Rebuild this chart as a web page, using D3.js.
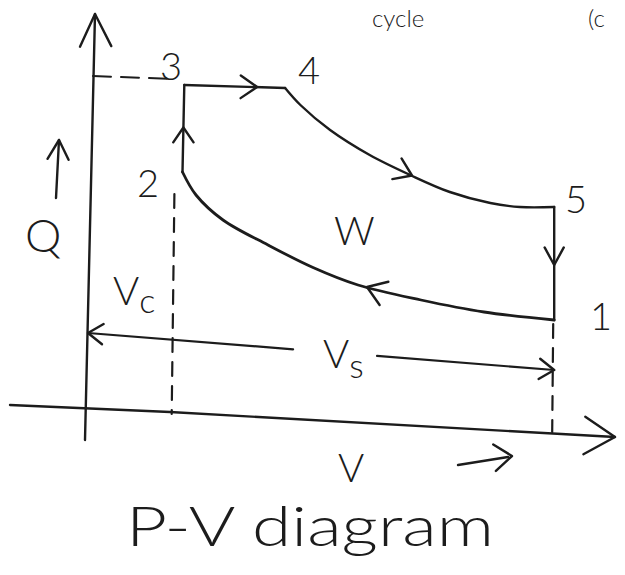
<!DOCTYPE html>
<html>
<head>
<meta charset="utf-8">
<script src="https://cdn.jsdelivr.net/npm/d3@7"></script>
<style>
  html, body { margin: 0; padding: 0; background: #ffffff; }
  svg { display: block; }
  text { font-family: "Lato", "Open Sans", sans-serif; font-weight: 300; fill: #1c1c1c; }
</style>
</head>
<body>
<svg id="chart" width="625" height="575"></svg>
<script>
// State points of the dual combustion cycle (volume V, pressure P, arbitrary units)
const stateNames = ["1", "2", "3", "4", "5"];
const stateV = [5.18, 1.05, 1.07, 2.19, 5.18];
const stateP = [1.8, 4.76, 6.5, 6.44, 4.06];

// Expansion 4 -> 5 (polytropic curve, flattening near 5)
const expansionV = [2.19, 2.36, 2.69, 3.13, 3.58, 4.02, 4.47, 4.80, 5.18];
const expansionP = [6.44, 6.10, 5.60, 5.10, 4.70, 4.36, 4.14, 4.06, 4.06];

// Compression 1 -> 2
const compressionV = [5.18, 4.40, 3.70, 3.00, 2.50, 2.00, 1.50, 1.20, 1.05];
const compressionP = [1.80, 1.96, 2.20, 2.50, 2.85, 3.30, 3.80, 4.30, 4.76];

// Swept-volume dimension line (from V = 0 to V1)
const sweptV = [0, 5.18];
const sweptP = [1.54, 0.80];

const svg = d3.select("#chart");
const ink = "#1c1c1c";

const x = d3.scaleLinear().domain([0, 5.2]).range([88, 556]);
const y = d3.scaleLinear().domain([0, 6.5]).range([410, 85]);

const line = d3.line().x(d => x(d[0])).y(d => y(d[1])).curve(d3.curveCatmullRom.alpha(0.5));
const straight = d3.line();

const pt = i => [x(stateV[i]), y(stateP[i])];

function stroke(sel, w) {
  return sel.attr("fill", "none").attr("stroke", ink).attr("stroke-width", w || 2.4)
    .attr("stroke-linecap", "round").attr("stroke-linejoin", "round");
}

// open chevron arrowhead; tip at (tx, ty) pointing in direction angle (radians)
function chevron(tx, ty, ang, len, spread) {
  len = len || 16; spread = spread || 0.55;
  const a1 = ang + Math.PI - spread, a2 = ang + Math.PI + spread;
  const p = [[tx + len * Math.cos(a1), ty + len * Math.sin(a1)], [tx, ty], [tx + len * Math.cos(a2), ty + len * Math.sin(a2)]];
  stroke(svg.append("path").attr("d", straight(p)));
}

// ---- axes (hand-drawn, slightly tilted) ----
stroke(svg.append("path").attr("d", straight([[95, 14], [85, 440]])));
chevron(95, 14, -Math.PI / 2 - 0.02, 36, 0.45);
stroke(svg.append("path").attr("d", straight([[10, 405], [170, 412], [615, 437]])));
chevron(615, 437, 0.05, 36, 0.55);

// ---- heading fragment along the top edge ----
svg.append("text").attr("x", 372).attr("y", 27).attr("font-size", 24).text("cycle");
svg.append("text").attr("x", 588).attr("y", 27).attr("font-size", 24).text("(c");

// ---- pressure axis marker ----
stroke(svg.append("path").attr("d", straight([[56, 198], [59, 140]])));
chevron(59, 140, -Math.PI / 2 + 0.05, 22, 0.5);
svg.append("text").attr("x", 25).attr("y", 252).attr("font-size", 46).text("Q");

// ---- cycle ----
const p1 = pt(0), p2 = pt(1), p3 = pt(2), p4 = pt(3), p5 = pt(4);

// dashed projection of P3 onto the pressure axis
stroke(svg.append("path").attr("d", straight([[93, 76], [p3[0] - 12, 79]])), 2)
  .attr("stroke-dasharray", "18 10");

// 2 -> 3 constant volume heat addition
stroke(svg.append("path").attr("d", straight([p2, p3])));
chevron(x(1.06), y(5.65), -Math.PI / 2, 18, 0.6);

// 3 -> 4 constant pressure heat addition
stroke(svg.append("path").attr("d", straight([p3, p4])));
chevron(x(1.88), y(6.46), 0.01, 20, 0.6);

// 4 -> 5 expansion
stroke(svg.append("path").attr("d", line(d3.zip(expansionV, expansionP))));
chevron(x(3.6), y(4.69), 0.42, 20, 0.6);

// 5 -> 1 constant volume heat rejection
stroke(svg.append("path").attr("d", straight([p5, p1])));
chevron(p1[0], y(2.9), Math.PI / 2, 20, 0.5);

// 1 -> 2 compression
stroke(svg.append("path").attr("d", line(d3.zip(compressionV, compressionP))), 2.8);
chevron(x(3.1), y(2.46), Math.PI + 0.36, 22, 0.6);

// dashed volume projections
stroke(svg.append("path").attr("d", straight([[x(0.96), p2[1] + 22], [x(0.93), 414]])), 2.2)
  .attr("stroke-dasharray", "14 10");
stroke(svg.append("path").attr("d", straight([[p1[0] - 1, p1[1] + 4], [p1[0] - 2, 432]])), 2.2)
  .attr("stroke-dasharray", "14 10");

// swept volume dimension line
const sL = [x(sweptV[0]), y(sweptP[0])], sR = [x(sweptV[1]), y(sweptP[1])];
const lerp = t => [sL[0] + (sR[0] - sL[0]) * t, sL[1] + (sR[1] - sL[1]) * t];
stroke(svg.append("path").attr("d", straight([sL, lerp(0.44)])), 2.2);
stroke(svg.append("path").attr("d", straight([lerp(0.62), sR])), 2.2);
const sAng = Math.atan2(sR[1] - sL[1], sR[0] - sL[0]);
chevron(sL[0], sL[1], sAng + Math.PI, 18, 0.6);
chevron(sR[0], sR[1], sAng, 18, 0.6);

// ---- state labels ----
const labelPos = { "1": [590, 330], "2": [137, 197], "3": [160, 80], "4": [298, 84], "5": [565, 213] };
stateNames.forEach(n => {
  svg.append("text").attr("x", labelPos[n][0]).attr("y", labelPos[n][1]).attr("font-size", 38).text(n);
});

svg.append("text").attr("x", 334).attr("y", 245).attr("font-size", 40).text("W");

const vc = svg.append("text").attr("x", 113).attr("y", 305).attr("font-size", 40);
vc.append("tspan").text("V");
vc.append("tspan").attr("font-size", 34).attr("dy", 8).text("c");

const vs = svg.append("text").attr("x", 323).attr("y", 368).attr("font-size", 40);
vs.append("tspan").text("V");
vs.append("tspan").attr("font-size", 34).attr("dy", 10).text("s");

// volume axis label with direction arrow
svg.append("text").attr("x", 338).attr("y", 482).attr("font-size", 40).text("V");
stroke(svg.append("path").attr("d", straight([[458, 465], [508, 457]])));
chevron(512, 456, -0.1, 22, 0.65);

svg.append("text").attr("x", 126).attr("y", 546).attr("font-size", 56)
  .attr("textLength", 368).attr("lengthAdjust", "spacingAndGlyphs").text("P-V diagram");
</script>
</body>
</html>
